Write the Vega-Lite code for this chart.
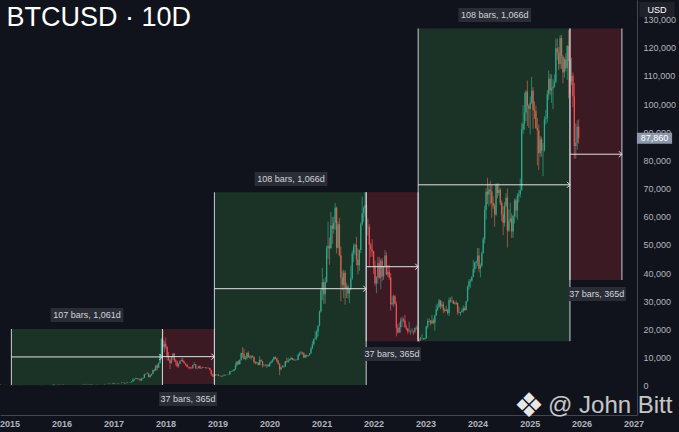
{
  "$schema": "https://vega.github.io/schema/vega-lite/v6.json",
  "width": 637,
  "height": 415,
  "autosize": {"type": "none"},
  "padding": {"left": 0, "top": 0, "right": 42, "bottom": 17},
  "background": "#10131c",
  "title": {
    "text": "BTCUSD · 10D",
    "anchor": "start",
    "offset": -32,
    "dx": 7,
    "fontSize": 27,
    "font": "Liberation Sans",
    "fontWeight": "normal",
    "color": "#ffffff"
  },
  "datasets": {
    "candles": [
      {"d":"2014-10-30","o":390,"h":395,"l":325,"c":335},
      {"d":"2014-11-09","o":335,"h":375,"l":330,"c":365},
      {"d":"2014-11-19","o":365,"h":410,"l":350,"c":375},
      {"d":"2014-11-29","o":375,"h":385,"l":360,"c":375},
      {"d":"2014-12-09","o":375,"h":380,"l":340,"c":350},
      {"d":"2014-12-19","o":350,"h":355,"l":310,"c":320},
      {"d":"2014-12-29","o":320,"h":335,"l":305,"c":315},
      {"d":"2015-01-08","o":315,"h":320,"l":265,"c":280},
      {"d":"2015-01-18","o":280,"h":285,"l":170,"c":210},
      {"d":"2015-01-28","o":210,"h":260,"l":200,"c":230},
      {"d":"2015-02-07","o":230,"h":240,"l":215,"c":225},
      {"d":"2015-02-17","o":225,"h":250,"l":220,"c":240},
      {"d":"2015-02-27","o":240,"h":265,"l":235,"c":255},
      {"d":"2015-03-09","o":255,"h":300,"l":250,"c":290},
      {"d":"2015-03-19","o":290,"h":295,"l":255,"c":260},
      {"d":"2015-03-29","o":260,"h":265,"l":240,"c":245},
      {"d":"2015-04-08","o":245,"h":260,"l":240,"c":245},
      {"d":"2015-04-18","o":245,"h":250,"l":220,"c":225},
      {"d":"2015-04-28","o":225,"h":240,"l":215,"c":225},
      {"d":"2015-05-08","o":225,"h":245,"l":222,"c":240},
      {"d":"2015-05-18","o":240,"h":242,"l":230,"c":235},
      {"d":"2015-05-28","o":235,"h":240,"l":228,"c":230},
      {"d":"2015-06-07","o":230,"h":235,"l":218,"c":225},
      {"d":"2015-06-17","o":225,"h":255,"l":222,"c":250},
      {"d":"2015-06-27","o":250,"h":265,"l":245,"c":250},
      {"d":"2015-07-07","o":250,"h":300,"l":248,"c":270},
      {"d":"2015-07-17","o":270,"h":300,"l":265,"c":280},
      {"d":"2015-07-27","o":280,"h":298,"l":275,"c":290},
      {"d":"2015-08-06","o":290,"h":292,"l":260,"c":280},
      {"d":"2015-08-16","o":280,"h":282,"l":195,"c":255},
      {"d":"2015-08-26","o":255,"h":262,"l":200,"c":225},
      {"d":"2015-09-05","o":225,"h":245,"l":220,"c":235},
      {"d":"2015-09-15","o":235,"h":240,"l":225,"c":230},
      {"d":"2015-09-25","o":230,"h":240,"l":228,"c":235},
      {"d":"2015-10-05","o":235,"h":246,"l":233,"c":240},
      {"d":"2015-10-15","o":240,"h":265,"l":238,"c":255},
      {"d":"2015-10-25","o":255,"h":290,"l":252,"c":285},
      {"d":"2015-11-04","o":285,"h":500,"l":280,"c":400},
      {"d":"2015-11-14","o":400,"h":410,"l":310,"c":335},
      {"d":"2015-11-24","o":335,"h":340,"l":310,"c":320},
      {"d":"2015-12-04","o":320,"h":370,"l":318,"c":360},
      {"d":"2015-12-14","o":360,"h":470,"l":355,"c":445},
      {"d":"2015-12-24","o":445,"h":470,"l":420,"c":455},
      {"d":"2016-01-03","o":455,"h":460,"l":420,"c":430},
      {"d":"2016-01-13","o":430,"h":435,"l":360,"c":385},
      {"d":"2016-01-23","o":385,"h":410,"l":365,"c":380},
      {"d":"2016-02-02","o":380,"h":385,"l":365,"c":375},
      {"d":"2016-02-12","o":375,"h":405,"l":370,"c":400},
      {"d":"2016-02-22","o":400,"h":445,"l":395,"c":435},
      {"d":"2016-03-03","o":435,"h":440,"l":405,"c":415},
      {"d":"2016-03-13","o":415,"h":420,"l":405,"c":415},
      {"d":"2016-03-23","o":415,"h":425,"l":410,"c":418},
      {"d":"2016-04-02","o":418,"h":425,"l":412,"c":420},
      {"d":"2016-04-12","o":420,"h":430,"l":415,"c":425},
      {"d":"2016-04-22","o":425,"h":465,"l":422,"c":450},
      {"d":"2016-05-02","o":450,"h":460,"l":440,"c":445},
      {"d":"2016-05-12","o":445,"h":460,"l":440,"c":455},
      {"d":"2016-05-22","o":455,"h":460,"l":435,"c":440},
      {"d":"2016-06-01","o":440,"h":550,"l":438,"c":535},
      {"d":"2016-06-11","o":535,"h":600,"l":530,"c":580},
      {"d":"2016-06-21","o":580,"h":780,"l":570,"c":665},
      {"d":"2016-07-01","o":665,"h":700,"l":620,"c":675},
      {"d":"2016-07-11","o":675,"h":680,"l":630,"c":650},
      {"d":"2016-07-21","o":650,"h":680,"l":645,"c":665},
      {"d":"2016-07-31","o":665,"h":670,"l":520,"c":625},
      {"d":"2016-08-10","o":625,"h":630,"l":580,"c":590},
      {"d":"2016-08-20","o":590,"h":595,"l":565,"c":580},
      {"d":"2016-08-30","o":580,"h":590,"l":570,"c":575},
      {"d":"2016-09-09","o":575,"h":630,"l":570,"c":625},
      {"d":"2016-09-19","o":625,"h":630,"l":600,"c":610},
      {"d":"2016-09-29","o":610,"h":615,"l":600,"c":605},
      {"d":"2016-10-09","o":605,"h":620,"l":602,"c":615},
      {"d":"2016-10-19","o":615,"h":640,"l":610,"c":630},
      {"d":"2016-10-29","o":630,"h":740,"l":625,"c":715},
      {"d":"2016-11-08","o":715,"h":740,"l":690,"c":710},
      {"d":"2016-11-18","o":710,"h":760,"l":700,"c":750},
      {"d":"2016-11-28","o":750,"h":760,"l":725,"c":735},
      {"d":"2016-12-08","o":735,"h":775,"l":730,"c":770},
      {"d":"2016-12-18","o":770,"h":800,"l":765,"c":790},
      {"d":"2016-12-28","o":790,"h":1150,"l":785,"c":1000},
      {"d":"2017-01-07","o":1000,"h":1010,"l":780,"c":900},
      {"d":"2017-01-17","o":900,"h":930,"l":860,"c":900},
      {"d":"2017-01-27","o":900,"h":930,"l":890,"c":920},
      {"d":"2017-02-06","o":920,"h":1040,"l":915,"c":1025},
      {"d":"2017-02-16","o":1025,"h":1060,"l":990,"c":1030},
      {"d":"2017-02-26","o":1030,"h":1200,"l":1020,"c":1180},
      {"d":"2017-03-08","o":1180,"h":1290,"l":1100,"c":1150},
      {"d":"2017-03-18","o":1150,"h":1180,"l":900,"c":970},
      {"d":"2017-03-28","o":970,"h":1080,"l":930,"c":1040},
      {"d":"2017-04-07","o":1040,"h":1200,"l":1030,"c":1190},
      {"d":"2017-04-17","o":1190,"h":1220,"l":1150,"c":1200},
      {"d":"2017-04-27","o":1200,"h":1350,"l":1190,"c":1330},
      {"d":"2017-05-07","o":1330,"h":1650,"l":1320,"c":1600},
      {"d":"2017-05-17","o":1600,"h":2760,"l":1600,"c":2200},
      {"d":"2017-05-27","o":2200,"h":2500,"l":1850,"c":2450},
      {"d":"2017-06-06","o":2450,"h":2980,"l":2440,"c":2700},
      {"d":"2017-06-16","o":2700,"h":2750,"l":2300,"c":2500},
      {"d":"2017-06-26","o":2500,"h":2600,"l":2300,"c":2600},
      {"d":"2017-07-06","o":2600,"h":2650,"l":1950,"c":1950},
      {"d":"2017-07-16","o":1950,"h":2900,"l":1830,"c":2550},
      {"d":"2017-07-26","o":2550,"h":2900,"l":2450,"c":2850},
      {"d":"2017-08-05","o":2850,"h":4300,"l":2800,"c":4200},
      {"d":"2017-08-15","o":4200,"h":4480,"l":3950,"c":4350},
      {"d":"2017-08-25","o":4350,"h":4980,"l":4200,"c":4300},
      {"d":"2017-09-04","o":4300,"h":4700,"l":3000,"c":3200},
      {"d":"2017-09-14","o":3200,"h":4000,"l":2980,"c":3800},
      {"d":"2017-09-24","o":3800,"h":4400,"l":3600,"c":4250},
      {"d":"2017-10-04","o":4250,"h":5800,"l":4200,"c":5650},
      {"d":"2017-10-14","o":5650,"h":6200,"l":5100,"c":5500},
      {"d":"2017-10-24","o":5500,"h":7300,"l":5400,"c":7200},
      {"d":"2017-11-03","o":7200,"h":7800,"l":5600,"c":6500},
      {"d":"2017-11-13","o":6500,"h":8300,"l":6400,"c":8100},
      {"d":"2017-11-23","o":8100,"h":11400,"l":8000,"c":11300},
      {"d":"2017-12-03","o":11300,"h":17000,"l":10800,"c":16500},
      {"d":"2017-12-13","o":16500,"h":19800,"l":13000,"c":13800},
      {"d":"2017-12-23","o":13800,"h":16000,"l":12000,"c":15000},
      {"d":"2018-01-02","o":15000,"h":17200,"l":13000,"c":13800},
      {"d":"2018-01-12","o":13800,"h":14100,"l":9000,"c":10500},
      {"d":"2018-01-22","o":10500,"h":12000,"l":9000,"c":9100},
      {"d":"2018-02-01","o":9100,"h":9500,"l":6000,"c":8100},
      {"d":"2018-02-11","o":8100,"h":10500,"l":7900,"c":10400},
      {"d":"2018-02-21","o":10400,"h":11700,"l":9300,"c":11400},
      {"d":"2018-03-03","o":11400,"h":11700,"l":8500,"c":9100},
      {"d":"2018-03-13","o":9100,"h":9600,"l":7300,"c":8700},
      {"d":"2018-03-23","o":8700,"h":9000,"l":6600,"c":7000},
      {"d":"2018-04-02","o":7000,"h":8000,"l":6500,"c":7900},
      {"d":"2018-04-12","o":7900,"h":9000,"l":7800,"c":8900},
      {"d":"2018-04-22","o":8900,"h":9800,"l":8800,"c":9200},
      {"d":"2018-05-02","o":9200,"h":9990,"l":8400,"c":8500},
      {"d":"2018-05-12","o":8500,"h":8900,"l":7900,"c":8000},
      {"d":"2018-05-22","o":8000,"h":8000,"l":7050,"c":7500},
      {"d":"2018-06-01","o":7500,"h":7800,"l":6500,"c":6800},
      {"d":"2018-06-11","o":6800,"h":6800,"l":6100,"c":6700},
      {"d":"2018-06-21","o":6700,"h":6800,"l":5800,"c":6400},
      {"d":"2018-07-01","o":6400,"h":6800,"l":6100,"c":6300},
      {"d":"2018-07-11","o":6300,"h":7500,"l":6100,"c":7400},
      {"d":"2018-07-21","o":7400,"h":8500,"l":7300,"c":7700},
      {"d":"2018-07-31","o":7700,"h":7750,"l":6100,"c":6300},
      {"d":"2018-08-10","o":6300,"h":6500,"l":5900,"c":6400},
      {"d":"2018-08-20","o":6400,"h":7100,"l":6300,"c":7000},
      {"d":"2018-08-30","o":7000,"h":7400,"l":6150,"c":6200},
      {"d":"2018-09-09","o":6200,"h":6600,"l":6100,"c":6400},
      {"d":"2018-09-19","o":6400,"h":6800,"l":6350,"c":6600},
      {"d":"2018-09-29","o":6600,"h":6700,"l":6500,"c":6650},
      {"d":"2018-10-09","o":6650,"h":6700,"l":6200,"c":6450},
      {"d":"2018-10-19","o":6450,"h":6500,"l":6250,"c":6300},
      {"d":"2018-10-29","o":6300,"h":6550,"l":6250,"c":6400},
      {"d":"2018-11-08","o":6400,"h":6500,"l":5500,"c":5600},
      {"d":"2018-11-18","o":5600,"h":5650,"l":3600,"c":4200},
      {"d":"2018-11-28","o":4200,"h":4400,"l":3300,"c":3400},
      {"d":"2018-12-08","o":3400,"h":3700,"l":3150,"c":3650},
      {"d":"2018-12-18","o":3650,"h":4200,"l":3600,"c":3850},
      {"d":"2018-12-28","o":3850,"h":4100,"l":3700,"c":4000},
      {"d":"2019-01-07","o":4000,"h":4100,"l":3500,"c":3650},
      {"d":"2019-01-17","o":3650,"h":3700,"l":3450,"c":3550},
      {"d":"2019-01-27","o":3550,"h":3600,"l":3350,"c":3400},
      {"d":"2019-02-06","o":3400,"h":3700,"l":3380,"c":3650},
      {"d":"2019-02-16","o":3650,"h":4200,"l":3600,"c":3800},
      {"d":"2019-02-26","o":3800,"h":3950,"l":3700,"c":3900},
      {"d":"2019-03-08","o":3900,"h":4050,"l":3850,"c":4000},
      {"d":"2019-03-18","o":4000,"h":4100,"l":3950,"c":4050},
      {"d":"2019-03-28","o":4050,"h":5300,"l":4000,"c":5100},
      {"d":"2019-04-07","o":5100,"h":5400,"l":4900,"c":5250},
      {"d":"2019-04-17","o":5250,"h":5600,"l":5100,"c":5300},
      {"d":"2019-04-27","o":5300,"h":6000,"l":5200,"c":5900},
      {"d":"2019-05-07","o":5900,"h":8300,"l":5800,"c":7350},
      {"d":"2019-05-17","o":7350,"h":8800,"l":6900,"c":8700},
      {"d":"2019-05-27","o":8700,"h":9100,"l":7500,"c":7800},
      {"d":"2019-06-06","o":7800,"h":9400,"l":7500,"c":9300},
      {"d":"2019-06-16","o":9300,"h":11800,"l":9000,"c":11700},
      {"d":"2019-06-26","o":11700,"h":13800,"l":10000,"c":11300},
      {"d":"2019-07-06","o":11300,"h":13200,"l":9300,"c":9600},
      {"d":"2019-07-16","o":9600,"h":10600,"l":9100,"c":9800},
      {"d":"2019-07-26","o":9800,"h":12000,"l":9400,"c":11700},
      {"d":"2019-08-05","o":11700,"h":12300,"l":10000,"c":10300},
      {"d":"2019-08-15","o":10300,"h":10900,"l":9700,"c":10100},
      {"d":"2019-08-25","o":10100,"h":10900,"l":9400,"c":10600},
      {"d":"2019-09-04","o":10600,"h":10900,"l":10100,"c":10350},
      {"d":"2019-09-14","o":10350,"h":10400,"l":7900,"c":8500},
      {"d":"2019-09-24","o":8500,"h":8700,"l":7700,"c":8150},
      {"d":"2019-10-04","o":8150,"h":8600,"l":7800,"c":8350},
      {"d":"2019-10-14","o":8350,"h":8400,"l":7300,"c":7450},
      {"d":"2019-10-24","o":7450,"h":10500,"l":7350,"c":9200},
      {"d":"2019-11-03","o":9200,"h":9500,"l":8600,"c":8800},
      {"d":"2019-11-13","o":8800,"h":8900,"l":6500,"c":7300},
      {"d":"2019-11-23","o":7300,"h":7800,"l":6800,"c":7300},
      {"d":"2019-12-03","o":7300,"h":7700,"l":7100,"c":7250},
      {"d":"2019-12-13","o":7250,"h":7550,"l":6400,"c":7500},
      {"d":"2019-12-23","o":7500,"h":7700,"l":6900,"c":6950},
      {"d":"2020-01-02","o":6950,"h":8400,"l":6850,"c":8100},
      {"d":"2020-01-12","o":8100,"h":9000,"l":8000,"c":8650},
      {"d":"2020-01-22","o":8650,"h":9600,"l":8300,"c":9350},
      {"d":"2020-02-01","o":9350,"h":10400,"l":9100,"c":10300},
      {"d":"2020-02-11","o":10300,"h":10500,"l":9500,"c":9700},
      {"d":"2020-02-21","o":9700,"h":10000,"l":8500,"c":8900},
      {"d":"2020-03-02","o":8900,"h":9200,"l":7600,"c":7900},
      {"d":"2020-03-12","o":7900,"h":7950,"l":3800,"c":5800},
      {"d":"2020-03-22","o":5800,"h":6900,"l":5700,"c":6650},
      {"d":"2020-04-01","o":6650,"h":7400,"l":6500,"c":6900},
      {"d":"2020-04-11","o":6900,"h":7300,"l":6500,"c":6850},
      {"d":"2020-04-21","o":6850,"h":8900,"l":6800,"c":8800},
      {"d":"2020-05-01","o":8800,"h":10000,"l":8100,"c":8600},
      {"d":"2020-05-11","o":8600,"h":10000,"l":8200,"c":9050},
      {"d":"2020-05-21","o":9050,"h":9600,"l":8800,"c":9450},
      {"d":"2020-05-31","o":9450,"h":10400,"l":9200,"c":9900},
      {"d":"2020-06-10","o":9900,"h":10000,"l":9200,"c":9300},
      {"d":"2020-06-20","o":9300,"h":9800,"l":9000,"c":9150},
      {"d":"2020-06-30","o":9150,"h":9450,"l":9000,"c":9250},
      {"d":"2020-07-10","o":9250,"h":9450,"l":9050,"c":9200},
      {"d":"2020-07-20","o":9200,"h":11400,"l":9150,"c":11100},
      {"d":"2020-07-30","o":11100,"h":12100,"l":10600,"c":11700},
      {"d":"2020-08-09","o":11700,"h":12400,"l":11100,"c":11750},
      {"d":"2020-08-19","o":11750,"h":12100,"l":11100,"c":11550},
      {"d":"2020-08-29","o":11550,"h":12050,"l":9900,"c":10100},
      {"d":"2020-09-08","o":10100,"h":11100,"l":9900,"c":11000},
      {"d":"2020-09-18","o":11000,"h":11100,"l":10100,"c":10700},
      {"d":"2020-09-28","o":10700,"h":11000,"l":10400,"c":10900},
      {"d":"2020-10-08","o":10900,"h":11700,"l":10800,"c":11500},
      {"d":"2020-10-18","o":11500,"h":13800,"l":11400,"c":13300},
      {"d":"2020-10-28","o":13300,"h":15900,"l":13100,"c":14800},
      {"d":"2020-11-07","o":14800,"h":16800,"l":14400,"c":16700},
      {"d":"2020-11-17","o":16700,"h":19400,"l":16500,"c":17100},
      {"d":"2020-11-27","o":17100,"h":19900,"l":16200,"c":19200},
      {"d":"2020-12-07","o":19200,"h":21500,"l":17600,"c":21300},
      {"d":"2020-12-17","o":21300,"h":26800,"l":21200,"c":26400},
      {"d":"2020-12-27","o":26400,"h":34800,"l":26000,"c":33900},
      {"d":"2021-01-06","o":33900,"h":41900,"l":30400,"c":36800},
      {"d":"2021-01-16","o":36800,"h":37900,"l":29000,"c":32500},
      {"d":"2021-01-26","o":32500,"h":38700,"l":29200,"c":36900},
      {"d":"2021-02-05","o":36900,"h":49700,"l":36500,"c":48800},
      {"d":"2021-02-15","o":48800,"h":58300,"l":45000,"c":49700},
      {"d":"2021-02-25","o":49700,"h":52600,"l":43000,"c":48900},
      {"d":"2021-03-07","o":48900,"h":61700,"l":48500,"c":56900},
      {"d":"2021-03-17","o":56900,"h":60000,"l":50400,"c":55800},
      {"d":"2021-03-27","o":55800,"h":60000,"l":54000,"c":58000},
      {"d":"2021-04-06","o":58000,"h":64900,"l":55400,"c":63200},
      {"d":"2021-04-16","o":63200,"h":63600,"l":47000,"c":49000},
      {"d":"2021-04-26","o":49000,"h":58400,"l":48800,"c":57400},
      {"d":"2021-05-06","o":57400,"h":59600,"l":46000,"c":46400},
      {"d":"2021-05-16","o":46400,"h":49500,"l":30000,"c":38400},
      {"d":"2021-05-26","o":38400,"h":40800,"l":34000,"c":35800},
      {"d":"2021-06-05","o":35800,"h":41300,"l":31100,"c":40200},
      {"d":"2021-06-15","o":40200,"h":41000,"l":28800,"c":34700},
      {"d":"2021-06-25","o":34700,"h":36600,"l":31200,"c":35300},
      {"d":"2021-07-05","o":35300,"h":35900,"l":31000,"c":32800},
      {"d":"2021-07-15","o":32800,"h":34500,"l":29300,"c":34300},
      {"d":"2021-07-25","o":34300,"h":42600,"l":33900,"c":38200},
      {"d":"2021-08-04","o":38200,"h":48100,"l":37600,"c":47100},
      {"d":"2021-08-14","o":47100,"h":50500,"l":43900,"c":49500},
      {"d":"2021-08-24","o":49500,"h":50500,"l":46400,"c":50000},
      {"d":"2021-09-03","o":50000,"h":52900,"l":42800,"c":44900},
      {"d":"2021-09-13","o":44900,"h":48800,"l":39600,"c":42800},
      {"d":"2021-09-23","o":42800,"h":48400,"l":40800,"c":48200},
      {"d":"2021-10-03","o":48200,"h":58000,"l":47100,"c":57400},
      {"d":"2021-10-13","o":57400,"h":67000,"l":56800,"c":61300},
      {"d":"2021-10-23","o":61300,"h":63700,"l":58100,"c":63100},
      {"d":"2021-11-02","o":63100,"h":68800,"l":60000,"c":64200},
      {"d":"2021-11-12","o":64200,"h":65500,"l":55600,"c":56300},
      {"d":"2021-11-22","o":56300,"h":59400,"l":53300,"c":56500},
      {"d":"2021-12-02","o":56500,"h":57400,"l":42000,"c":50100},
      {"d":"2021-12-12","o":50100,"h":50800,"l":45700,"c":48600},
      {"d":"2021-12-22","o":48600,"h":52100,"l":45900,"c":47700},
      {"d":"2022-01-01","o":47700,"h":47900,"l":39700,"c":42700},
      {"d":"2022-01-11","o":42700,"h":44500,"l":35500,"c":36300},
      {"d":"2022-01-21","o":36300,"h":38900,"l":32900,"c":38500},
      {"d":"2022-01-31","o":38500,"h":45800,"l":36300,"c":43500},
      {"d":"2022-02-10","o":43500,"h":45800,"l":38000,"c":38400},
      {"d":"2022-02-20","o":38400,"h":45000,"l":34300,"c":44400},
      {"d":"2022-03-02","o":44400,"h":45400,"l":37200,"c":38800},
      {"d":"2022-03-12","o":38800,"h":42600,"l":37600,"c":42400},
      {"d":"2022-03-22","o":42400,"h":48200,"l":42000,"c":46300},
      {"d":"2022-04-01","o":46300,"h":47400,"l":39300,"c":39500},
      {"d":"2022-04-11","o":39500,"h":42900,"l":38600,"c":40500},
      {"d":"2022-04-21","o":40500,"h":42900,"l":37700,"c":38500},
      {"d":"2022-05-01","o":38500,"h":40000,"l":26700,"c":29000},
      {"d":"2022-05-11","o":29000,"h":32000,"l":28600,"c":29400},
      {"d":"2022-05-21","o":29400,"h":32400,"l":28000,"c":31800},
      {"d":"2022-05-31","o":31800,"h":32300,"l":28800,"c":29100},
      {"d":"2022-06-10","o":29100,"h":30000,"l":17600,"c":20600},
      {"d":"2022-06-20","o":20600,"h":21900,"l":18600,"c":19000},
      {"d":"2022-06-30","o":19000,"h":22500,"l":18900,"c":20800},
      {"d":"2022-07-10","o":20800,"h":24200,"l":18900,"c":23200},
      {"d":"2022-07-20","o":23200,"h":24600,"l":20800,"c":23600},
      {"d":"2022-07-30","o":23600,"h":24200,"l":22600,"c":23200},
      {"d":"2022-08-09","o":23200,"h":25200,"l":20700,"c":20800},
      {"d":"2022-08-19","o":20800,"h":21700,"l":19700,"c":20300},
      {"d":"2022-08-29","o":20300,"h":20600,"l":18500,"c":19300},
      {"d":"2022-09-08","o":19300,"h":22800,"l":19000,"c":19400},
      {"d":"2022-09-18","o":19400,"h":19900,"l":18200,"c":19400},
      {"d":"2022-09-28","o":19400,"h":20500,"l":18900,"c":19400},
      {"d":"2022-10-08","o":19400,"h":19700,"l":18200,"c":19300},
      {"d":"2022-10-18","o":19300,"h":20800,"l":18700,"c":20600},
      {"d":"2022-10-28","o":20600,"h":21500,"l":20000,"c":20600},
      {"d":"2022-11-07","o":20600,"h":21000,"l":15700,"c":16700},
      {"d":"2022-11-17","o":16700,"h":16900,"l":15500,"c":16500},
      {"d":"2022-11-27","o":16500,"h":17400,"l":16000,"c":16800},
      {"d":"2022-12-07","o":16800,"h":18400,"l":16500,"c":16800},
      {"d":"2022-12-17","o":16800,"h":17000,"l":16300,"c":16700},
      {"d":"2022-12-27","o":16700,"h":17100,"l":16400,"c":16900},
      {"d":"2023-01-06","o":16900,"h":21300,"l":16800,"c":21100},
      {"d":"2023-01-16","o":21100,"h":23800,"l":20400,"c":23000},
      {"d":"2023-01-26","o":23000,"h":24000,"l":22600,"c":22900},
      {"d":"2023-02-05","o":22900,"h":23400,"l":21400,"c":22200},
      {"d":"2023-02-15","o":22200,"h":25200,"l":22000,"c":23200},
      {"d":"2023-02-25","o":23200,"h":23900,"l":21900,"c":22400},
      {"d":"2023-03-07","o":22400,"h":25200,"l":19600,"c":25000},
      {"d":"2023-03-17","o":25000,"h":28900,"l":24900,"c":27100},
      {"d":"2023-03-27","o":27100,"h":29200,"l":26600,"c":28000},
      {"d":"2023-04-06","o":28000,"h":30900,"l":27800,"c":30300},
      {"d":"2023-04-16","o":30300,"h":30500,"l":27200,"c":28300},
      {"d":"2023-04-26","o":28300,"h":30000,"l":27700,"c":28900},
      {"d":"2023-05-06","o":28900,"h":29800,"l":25800,"c":27000},
      {"d":"2023-05-16","o":27000,"h":27500,"l":26100,"c":26700},
      {"d":"2023-05-26","o":26700,"h":28400,"l":26500,"c":27000},
      {"d":"2023-06-05","o":27000,"h":27300,"l":25300,"c":25900},
      {"d":"2023-06-15","o":25900,"h":31400,"l":24800,"c":30500},
      {"d":"2023-06-25","o":30500,"h":31400,"l":29500,"c":30300},
      {"d":"2023-07-05","o":30300,"h":31800,"l":29700,"c":30300},
      {"d":"2023-07-15","o":30300,"h":30400,"l":29100,"c":29200},
      {"d":"2023-07-25","o":29200,"h":29900,"l":28900,"c":29100},
      {"d":"2023-08-04","o":29100,"h":30300,"l":28700,"c":29400},
      {"d":"2023-08-14","o":29400,"h":29600,"l":25200,"c":26100},
      {"d":"2023-08-24","o":26100,"h":28100,"l":25800,"c":25900},
      {"d":"2023-09-03","o":25900,"h":26300,"l":24900,"c":26200},
      {"d":"2023-09-13","o":26200,"h":27400,"l":26100,"c":26600},
      {"d":"2023-09-23","o":26600,"h":28500,"l":26000,"c":27600},
      {"d":"2023-10-03","o":27600,"h":28200,"l":26600,"c":26900},
      {"d":"2023-10-13","o":26900,"h":30200,"l":26800,"c":30000},
      {"d":"2023-10-23","o":30000,"h":35600,"l":29900,"c":35400},
      {"d":"2023-11-02","o":35400,"h":37900,"l":34100,"c":37100},
      {"d":"2023-11-12","o":37100,"h":38000,"l":34800,"c":37400},
      {"d":"2023-11-22","o":37400,"h":38900,"l":36800,"c":38700},
      {"d":"2023-12-02","o":38700,"h":44700,"l":38600,"c":41500},
      {"d":"2023-12-12","o":41500,"h":44000,"l":40200,"c":43700},
      {"d":"2023-12-22","o":43700,"h":44300,"l":41500,"c":44200},
      {"d":"2024-01-01","o":44200,"h":49000,"l":42600,"c":46300},
      {"d":"2024-01-11","o":46300,"h":48900,"l":40300,"c":41600},
      {"d":"2024-01-21","o":41600,"h":43400,"l":38500,"c":42600},
      {"d":"2024-01-31","o":42600,"h":47700,"l":42200,"c":47100},
      {"d":"2024-02-10","o":47100,"h":52800,"l":47000,"c":52000},
      {"d":"2024-02-20","o":52000,"h":64000,"l":50500,"c":62400},
      {"d":"2024-03-01","o":62400,"h":70200,"l":59000,"c":68900},
      {"d":"2024-03-11","o":68900,"h":73800,"l":64500,"c":67900},
      {"d":"2024-03-21","o":67900,"h":71800,"l":63700,"c":69700},
      {"d":"2024-03-31","o":69700,"h":72700,"l":64500,"c":69100},
      {"d":"2024-04-10","o":69100,"h":71300,"l":59600,"c":64900},
      {"d":"2024-04-20","o":64900,"h":67200,"l":62800,"c":63800},
      {"d":"2024-04-30","o":63800,"h":64700,"l":56500,"c":60800},
      {"d":"2024-05-10","o":60800,"h":71900,"l":60200,"c":71400},
      {"d":"2024-05-20","o":71400,"h":71900,"l":66600,"c":68400},
      {"d":"2024-05-30","o":68400,"h":71900,"l":67400,"c":69600},
      {"d":"2024-06-09","o":69600,"h":70200,"l":64100,"c":65000},
      {"d":"2024-06-19","o":65000,"h":65800,"l":58400,"c":60800},
      {"d":"2024-06-29","o":60800,"h":63800,"l":53500,"c":57900},
      {"d":"2024-07-09","o":57900,"h":65300,"l":56500,"c":64000},
      {"d":"2024-07-19","o":64000,"h":68400,"l":63400,"c":66800},
      {"d":"2024-07-29","o":66800,"h":70000,"l":49100,"c":55100},
      {"d":"2024-08-08","o":55100,"h":62700,"l":54600,"c":58400},
      {"d":"2024-08-18","o":58400,"h":65000,"l":58000,"c":59400},
      {"d":"2024-08-28","o":59400,"h":61200,"l":52500,"c":54800},
      {"d":"2024-09-07","o":54800,"h":60700,"l":52600,"c":60300},
      {"d":"2024-09-17","o":60300,"h":66500,"l":57600,"c":65800},
      {"d":"2024-09-27","o":65800,"h":66500,"l":59800,"c":62200},
      {"d":"2024-10-07","o":62200,"h":68400,"l":58900,"c":67400},
      {"d":"2024-10-17","o":67400,"h":69500,"l":65100,"c":67900},
      {"d":"2024-10-27","o":67900,"h":73600,"l":66800,"c":69400},
      {"d":"2024-11-06","o":69400,"h":93400,"l":69300,"c":91000},
      {"d":"2024-11-16","o":91000,"h":99600,"l":89400,"c":93000},
      {"d":"2024-11-26","o":93000,"h":104000,"l":90800,"c":97000},
      {"d":"2024-12-06","o":97000,"h":105000,"l":94000,"c":104400},
      {"d":"2024-12-16","o":104400,"h":108300,"l":92200,"c":99400},
      {"d":"2024-12-26","o":99400,"h":99900,"l":91500,"c":98300},
      {"d":"2025-01-05","o":98300,"h":102700,"l":89200,"c":100500},
      {"d":"2025-01-15","o":100500,"h":109600,"l":99900,"c":104700},
      {"d":"2025-01-25","o":104700,"h":106000,"l":91200,"c":97800},
      {"d":"2025-02-04","o":97800,"h":101000,"l":94700,"c":97500},
      {"d":"2025-02-14","o":97500,"h":99500,"l":91200,"c":91500},
      {"d":"2025-02-24","o":91500,"h":95000,"l":78200,"c":90600},
      {"d":"2025-03-06","o":90600,"h":92800,"l":76600,"c":82600},
      {"d":"2025-03-16","o":82600,"h":88700,"l":81200,"c":87500},
      {"d":"2025-03-26","o":87500,"h":88400,"l":81300,"c":83500},
      {"d":"2025-04-05","o":83500,"h":86100,"l":74400,"c":83600},
      {"d":"2025-04-15","o":83600,"h":95700,"l":83100,"c":94700},
      {"d":"2025-04-25","o":94700,"h":97900,"l":92800,"c":95000},
      {"d":"2025-05-05","o":95000,"h":105000,"l":93400,"c":103500},
      {"d":"2025-05-15","o":103500,"h":111900,"l":101500,"c":109000},
      {"d":"2025-05-25","o":109000,"h":110700,"l":103100,"c":104800},
      {"d":"2025-06-04","o":104800,"h":110500,"l":100400,"c":105500},
      {"d":"2025-06-14","o":105500,"h":108900,"l":98200,"c":106100},
      {"d":"2025-06-24","o":106100,"h":110500,"l":105800,"c":108000},
      {"d":"2025-07-04","o":108000,"h":123200,"l":107400,"c":119800},
      {"d":"2025-07-14","o":119800,"h":123200,"l":115700,"c":118300},
      {"d":"2025-07-24","o":118300,"h":120200,"l":112000,"c":114200},
      {"d":"2025-08-03","o":114200,"h":124400,"l":112700,"c":123300},
      {"d":"2025-08-13","o":123300,"h":124500,"l":112400,"c":116900},
      {"d":"2025-08-23","o":116900,"h":117400,"l":107300,"c":111200},
      {"d":"2025-09-02","o":111200,"h":116600,"l":109300,"c":115900},
      {"d":"2025-09-12","o":115900,"h":118000,"l":111600,"c":112700},
      {"d":"2025-09-22","o":112700,"h":121000,"l":108600,"c":120600},
      {"d":"2025-10-02","o":120600,"h":126200,"l":102000,"c":115200},
      {"d":"2025-10-12","o":115200,"h":116000,"l":103500,"c":108000},
      {"d":"2025-10-22","o":108000,"h":116400,"l":106700,"c":110000},
      {"d":"2025-11-01","o":110000,"h":111200,"l":98900,"c":102800},
      {"d":"2025-11-11","o":102800,"h":107500,"l":80600,"c":85100},
      {"d":"2025-11-21","o":85100,"h":93100,"l":80600,"c":86300},
      {"d":"2025-12-01","o":86300,"h":94200,"l":83800,"c":92000},
      {"d":"2025-12-11","o":92000,"h":94500,"l":86000,"c":87860}
    ],
    "ranges": [
      {"s":"2015-01-14","e":"2017-12-10","lo":350,"hi":20200,"mid":10300,"k":"up","lx":"2016-06-28","ly":25200,"t":"107 bars, 1,061d"},
      {"s":"2017-12-10","e":"2018-12-10","lo":700,"hi":20200,"mid":10400,"k":"down","lx":"2018-06-08","ly":-4600,"t":"37 bars, 365d"},
      {"s":"2018-12-10","e":"2021-11-10","lo":350,"hi":68700,"mid":34500,"k":"up","lx":"2020-05-31","ly":73400,"t":"108 bars, 1,066d"},
      {"s":"2021-11-10","e":"2022-11-10","lo":15900,"hi":68700,"mid":42300,"k":"down","lx":"2022-05-10","ly":11350,"t":"37 bars, 365d"},
      {"s":"2022-11-10","e":"2025-10-11","lo":15900,"hi":126800,"mid":71350,"k":"up","lx":"2024-05-01","ly":131600,"t":"108 bars, 1,066d"},
      {"s":"2025-10-11","e":"2026-10-11","lo":37600,"hi":126800,"mid":82200,"k":"down","lx":"2026-04-18","ly":32600,"t":"37 bars, 365d"}
    ],
    "tags": [
      {"d":"2027-05-28","p":87860,"t":"87,860","k":"price"},
      {"d":"2027-06-14","p":133500,"t":"USD","k":"unit"}
    ],
    "marks": [
      {"d":"2024-12-27","p":-7300,"t":"❖","k":"logo"},
      {"d":"2025-05-10","p":-9600,"t":"@ John Bitt","k":"name"}
    ]
  },
  "layer": [
    {
      "data": {"name": "candles"},
      "mark": {"type": "rule", "strokeWidth": 0.7},
      "encoding": {
        "x": {"field": "d", "type": "temporal", "scale": {"domain": [{"year": 2014, "month": 10, "date": 26}, {"year": 2027, "month": 1, "date": 25}]}, "axis": {"title": null, "format": "%Y", "tickCount": "year", "grid": false, "ticks": false, "labelColor": "#b2b5be", "labelFontSize": 9, "labelFont": "Liberation Sans", "labelFontWeight": "bold", "labelPadding": 4, "labelFlush": false, "labelOverlap": false, "domainColor": "#434651"}},
        "y": {"field": "l", "type": "quantitative", "scale": {"domain": [-10300, 136900], "nice": false, "zero": false}, "axis": {"orient": "right", "title": null, "format": ",.0f", "grid": false, "ticks": false, "values": [0, 10000, 20000, 30000, 40000, 50000, 60000, 70000, 80000, 90000, 100000, 110000, 120000, 130000], "labelColor": "#b2b5be", "labelFontSize": 9, "labelFont": "Liberation Sans", "labelPadding": 6, "domainColor": "#434651"}},
        "y2": {"field": "h"},
        "color": {"condition": {"test": "datum.c >= datum.o", "value": "#26a69a"}, "value": "#ef5350"}
      }
    },
    {
      "data": {"name": "candles"},
      "mark": {"type": "rule", "strokeWidth": 1.3},
      "encoding": {
        "x": {"field": "d", "type": "temporal", "axis": {"title": null, "format": "%Y", "tickCount": "year", "grid": false, "ticks": false, "labelColor": "#b2b5be", "labelFontSize": 9, "labelFont": "Liberation Sans", "labelFontWeight": "bold", "labelPadding": 4, "labelFlush": false, "labelOverlap": false, "domainColor": "#434651"}},
        "y": {"field": "o", "type": "quantitative", "axis": {"orient": "right", "title": null, "format": ",.0f", "grid": false, "ticks": false, "values": [0, 10000, 20000, 30000, 40000, 50000, 60000, 70000, 80000, 90000, 100000, 110000, 120000, 130000], "labelColor": "#b2b5be", "labelFontSize": 9, "labelFont": "Liberation Sans", "labelPadding": 6, "domainColor": "#434651"}},
        "y2": {"field": "c"},
        "color": {"condition": {"test": "datum.c >= datum.o", "value": "#26a69a"}, "value": "#ef5350"}
      }
    },
    {
      "data": {"name": "ranges"},
      "mark": {"type": "rect", "opacity": 0.2},
      "encoding": {
        "x": {"field": "s", "type": "temporal", "axis": {"title": null, "format": "%Y", "tickCount": "year", "grid": false, "ticks": false, "labelColor": "#b2b5be", "labelFontSize": 9, "labelFont": "Liberation Sans", "labelFontWeight": "bold", "labelPadding": 4, "labelFlush": false, "labelOverlap": false, "domainColor": "#434651"}},
        "x2": {"field": "e"},
        "y": {"field": "lo", "type": "quantitative", "axis": {"orient": "right", "title": null, "format": ",.0f", "grid": false, "ticks": false, "values": [0, 10000, 20000, 30000, 40000, 50000, 60000, 70000, 80000, 90000, 100000, 110000, 120000, 130000], "labelColor": "#b2b5be", "labelFontSize": 9, "labelFont": "Liberation Sans", "labelPadding": 6, "domainColor": "#434651"}},
        "y2": {"field": "hi"},
        "color": {"condition": {"test": "datum.k == 'up'", "value": "#4caf50"}, "value": "#f23645"}
      }
    },
    {
      "data": {"name": "ranges"},
      "mark": {"type": "rule", "strokeWidth": 1, "color": "#c9ccd3"},
      "encoding": {
        "x": {"field": "s", "type": "temporal", "axis": {"title": null, "format": "%Y", "tickCount": "year", "grid": false, "ticks": false, "labelColor": "#b2b5be", "labelFontSize": 9, "labelFont": "Liberation Sans", "labelFontWeight": "bold", "labelPadding": 4, "labelFlush": false, "labelOverlap": false, "domainColor": "#434651"}},
        "y": {"field": "lo", "type": "quantitative", "axis": {"orient": "right", "title": null, "format": ",.0f", "grid": false, "ticks": false, "values": [0, 10000, 20000, 30000, 40000, 50000, 60000, 70000, 80000, 90000, 100000, 110000, 120000, 130000], "labelColor": "#b2b5be", "labelFontSize": 9, "labelFont": "Liberation Sans", "labelPadding": 6, "domainColor": "#434651"}},
        "y2": {"field": "hi"}
      }
    },
    {
      "data": {"name": "ranges"},
      "mark": {"type": "rule", "strokeWidth": 1, "color": "#c9ccd3"},
      "encoding": {
        "x": {"field": "e", "type": "temporal", "axis": {"title": null, "format": "%Y", "tickCount": "year", "grid": false, "ticks": false, "labelColor": "#b2b5be", "labelFontSize": 9, "labelFont": "Liberation Sans", "labelFontWeight": "bold", "labelPadding": 4, "labelFlush": false, "labelOverlap": false, "domainColor": "#434651"}},
        "y": {"field": "lo", "type": "quantitative", "axis": {"orient": "right", "title": null, "format": ",.0f", "grid": false, "ticks": false, "values": [0, 10000, 20000, 30000, 40000, 50000, 60000, 70000, 80000, 90000, 100000, 110000, 120000, 130000], "labelColor": "#b2b5be", "labelFontSize": 9, "labelFont": "Liberation Sans", "labelPadding": 6, "domainColor": "#434651"}},
        "y2": {"field": "hi"}
      }
    },
    {
      "data": {"name": "ranges"},
      "mark": {"type": "rule", "strokeWidth": 1, "color": "#e2e3e6"},
      "encoding": {
        "x": {"field": "s", "type": "temporal", "axis": {"title": null, "format": "%Y", "tickCount": "year", "grid": false, "ticks": false, "labelColor": "#b2b5be", "labelFontSize": 9, "labelFont": "Liberation Sans", "labelFontWeight": "bold", "labelPadding": 4, "labelFlush": false, "labelOverlap": false, "domainColor": "#434651"}},
        "x2": {"field": "e"},
        "y": {"field": "mid", "type": "quantitative", "axis": {"orient": "right", "title": null, "format": ",.0f", "grid": false, "ticks": false, "values": [0, 10000, 20000, 30000, 40000, 50000, 60000, 70000, 80000, 90000, 100000, 110000, 120000, 130000], "labelColor": "#b2b5be", "labelFontSize": 9, "labelFont": "Liberation Sans", "labelPadding": 6, "domainColor": "#434651"}}
      }
    },
    {
      "data": {"name": "ranges"},
      "mark": {"type": "point", "shape": "M-1,-1L0,0L-1,1", "filled": false, "size": 36, "strokeWidth": 1, "color": "#e2e3e6", "opacity": 1},
      "encoding": {
        "x": {"field": "e", "type": "temporal", "axis": {"title": null, "format": "%Y", "tickCount": "year", "grid": false, "ticks": false, "labelColor": "#b2b5be", "labelFontSize": 9, "labelFont": "Liberation Sans", "labelFontWeight": "bold", "labelPadding": 4, "labelFlush": false, "labelOverlap": false, "domainColor": "#434651"}},
        "y": {"field": "mid", "type": "quantitative", "axis": {"orient": "right", "title": null, "format": ",.0f", "grid": false, "ticks": false, "values": [0, 10000, 20000, 30000, 40000, 50000, 60000, 70000, 80000, 90000, 100000, 110000, 120000, 130000], "labelColor": "#b2b5be", "labelFontSize": 9, "labelFont": "Liberation Sans", "labelPadding": 6, "domainColor": "#434651"}}
      }
    },
    {
      "data": {"name": "ranges"},
      "transform": [{"filter": "datum.k == 'up'"}],
      "mark": {"type": "point", "shape": "M-5.2,-1H5.2V1H-5.2Z", "filled": true, "size": 196, "color": "#2a2d35", "opacity": 1},
      "encoding": {
        "x": {"field": "lx", "type": "temporal", "axis": {"title": null, "format": "%Y", "tickCount": "year", "grid": false, "ticks": false, "labelColor": "#b2b5be", "labelFontSize": 9, "labelFont": "Liberation Sans", "labelFontWeight": "bold", "labelPadding": 4, "labelFlush": false, "labelOverlap": false, "domainColor": "#434651"}},
        "y": {"field": "ly", "type": "quantitative", "axis": {"orient": "right", "title": null, "format": ",.0f", "grid": false, "ticks": false, "values": [0, 10000, 20000, 30000, 40000, 50000, 60000, 70000, 80000, 90000, 100000, 110000, 120000, 130000], "labelColor": "#b2b5be", "labelFontSize": 9, "labelFont": "Liberation Sans", "labelPadding": 6, "domainColor": "#434651"}}
      }
    },
    {
      "data": {"name": "ranges"},
      "transform": [{"filter": "datum.k == 'down'"}],
      "mark": {"type": "point", "shape": "M-4.15,-1H4.15V1H-4.15Z", "filled": true, "size": 196, "color": "#2a2d35", "opacity": 1},
      "encoding": {
        "x": {"field": "lx", "type": "temporal", "axis": {"title": null, "format": "%Y", "tickCount": "year", "grid": false, "ticks": false, "labelColor": "#b2b5be", "labelFontSize": 9, "labelFont": "Liberation Sans", "labelFontWeight": "bold", "labelPadding": 4, "labelFlush": false, "labelOverlap": false, "domainColor": "#434651"}},
        "y": {"field": "ly", "type": "quantitative", "axis": {"orient": "right", "title": null, "format": ",.0f", "grid": false, "ticks": false, "values": [0, 10000, 20000, 30000, 40000, 50000, 60000, 70000, 80000, 90000, 100000, 110000, 120000, 130000], "labelColor": "#b2b5be", "labelFontSize": 9, "labelFont": "Liberation Sans", "labelPadding": 6, "domainColor": "#434651"}}
      }
    },
    {
      "data": {"name": "ranges"},
      "mark": {"type": "text", "fontSize": 9, "font": "Liberation Sans", "color": "#d1d4dc", "align": "center", "baseline": "middle"},
      "encoding": {
        "x": {"field": "lx", "type": "temporal", "axis": {"title": null, "format": "%Y", "tickCount": "year", "grid": false, "ticks": false, "labelColor": "#b2b5be", "labelFontSize": 9, "labelFont": "Liberation Sans", "labelFontWeight": "bold", "labelPadding": 4, "labelFlush": false, "labelOverlap": false, "domainColor": "#434651"}},
        "y": {"field": "ly", "type": "quantitative", "axis": {"orient": "right", "title": null, "format": ",.0f", "grid": false, "ticks": false, "values": [0, 10000, 20000, 30000, 40000, 50000, 60000, 70000, 80000, 90000, 100000, 110000, 120000, 130000], "labelColor": "#b2b5be", "labelFontSize": 9, "labelFont": "Liberation Sans", "labelPadding": 6, "domainColor": "#434651"}},
        "text": {"field": "t"}
      }
    },
    {
      "data": {"name": "tags"},
      "transform": [{"filter": "datum.k == 'price'"}],
      "mark": {"type": "point", "shape": "M-3.2,-1H3.2V1H-3.2Z", "filled": true, "size": 121, "color": "#8d99ab", "opacity": 1},
      "encoding": {
        "x": {"field": "d", "type": "temporal", "axis": {"title": null, "format": "%Y", "tickCount": "year", "grid": false, "ticks": false, "labelColor": "#b2b5be", "labelFontSize": 9, "labelFont": "Liberation Sans", "labelFontWeight": "bold", "labelPadding": 4, "labelFlush": false, "labelOverlap": false, "domainColor": "#434651"}},
        "y": {"field": "p", "type": "quantitative", "axis": {"orient": "right", "title": null, "format": ",.0f", "grid": false, "ticks": false, "values": [0, 10000, 20000, 30000, 40000, 50000, 60000, 70000, 80000, 90000, 100000, 110000, 120000, 130000], "labelColor": "#b2b5be", "labelFontSize": 9, "labelFont": "Liberation Sans", "labelPadding": 6, "domainColor": "#434651"}}
      }
    },
    {
      "data": {"name": "tags"},
      "transform": [{"filter": "datum.k == 'unit'"}],
      "mark": {"type": "point", "shape": "M-2.35,-1H2.35V1H-2.35Z", "filled": true, "size": 225, "color": "#1f222b", "opacity": 1},
      "encoding": {
        "x": {"field": "d", "type": "temporal", "axis": {"title": null, "format": "%Y", "tickCount": "year", "grid": false, "ticks": false, "labelColor": "#b2b5be", "labelFontSize": 9, "labelFont": "Liberation Sans", "labelFontWeight": "bold", "labelPadding": 4, "labelFlush": false, "labelOverlap": false, "domainColor": "#434651"}},
        "y": {"field": "p", "type": "quantitative", "axis": {"orient": "right", "title": null, "format": ",.0f", "grid": false, "ticks": false, "values": [0, 10000, 20000, 30000, 40000, 50000, 60000, 70000, 80000, 90000, 100000, 110000, 120000, 130000], "labelColor": "#b2b5be", "labelFontSize": 9, "labelFont": "Liberation Sans", "labelPadding": 6, "domainColor": "#434651"}}
      }
    },
    {
      "data": {"name": "tags"},
      "mark": {"type": "text", "fontSize": 9, "font": "Liberation Sans", "color": "#ffffff", "align": "center", "baseline": "middle"},
      "encoding": {
        "x": {"field": "d", "type": "temporal", "axis": {"title": null, "format": "%Y", "tickCount": "year", "grid": false, "ticks": false, "labelColor": "#b2b5be", "labelFontSize": 9, "labelFont": "Liberation Sans", "labelFontWeight": "bold", "labelPadding": 4, "labelFlush": false, "labelOverlap": false, "domainColor": "#434651"}},
        "y": {"field": "p", "type": "quantitative", "axis": {"orient": "right", "title": null, "format": ",.0f", "grid": false, "ticks": false, "values": [0, 10000, 20000, 30000, 40000, 50000, 60000, 70000, 80000, 90000, 100000, 110000, 120000, 130000], "labelColor": "#b2b5be", "labelFontSize": 9, "labelFont": "Liberation Sans", "labelPadding": 6, "domainColor": "#434651"}},
        "text": {"field": "t"}
      }
    },
    {
      "data": {"name": "marks"},
      "transform": [{"filter": "datum.k == 'logo'"}],
      "mark": {"type": "text", "fontSize": 34, "font": "DejaVu Sans", "color": "#ffffff", "opacity": 0.9, "align": "center", "baseline": "middle"},
      "encoding": {
        "x": {"field": "d", "type": "temporal", "axis": {"title": null, "format": "%Y", "tickCount": "year", "grid": false, "ticks": false, "labelColor": "#b2b5be", "labelFontSize": 9, "labelFont": "Liberation Sans", "labelFontWeight": "bold", "labelPadding": 4, "labelFlush": false, "labelOverlap": false, "domainColor": "#434651"}},
        "y": {"field": "p", "type": "quantitative", "axis": {"orient": "right", "title": null, "format": ",.0f", "grid": false, "ticks": false, "values": [0, 10000, 20000, 30000, 40000, 50000, 60000, 70000, 80000, 90000, 100000, 110000, 120000, 130000], "labelColor": "#b2b5be", "labelFontSize": 9, "labelFont": "Liberation Sans", "labelPadding": 6, "domainColor": "#434651"}},
        "text": {"field": "t"}
      }
    },
    {
      "data": {"name": "marks"},
      "transform": [{"filter": "datum.k == 'name'"}],
      "mark": {"type": "text", "fontSize": 24, "font": "Liberation Sans", "color": "#e6e6e6", "opacity": 0.85, "align": "left", "baseline": "alphabetic"},
      "encoding": {
        "x": {"field": "d", "type": "temporal", "axis": {"title": null, "format": "%Y", "tickCount": "year", "grid": false, "ticks": false, "labelColor": "#b2b5be", "labelFontSize": 9, "labelFont": "Liberation Sans", "labelFontWeight": "bold", "labelPadding": 4, "labelFlush": false, "labelOverlap": false, "domainColor": "#434651"}},
        "y": {"field": "p", "type": "quantitative", "axis": {"orient": "right", "title": null, "format": ",.0f", "grid": false, "ticks": false, "values": [0, 10000, 20000, 30000, 40000, 50000, 60000, 70000, 80000, 90000, 100000, 110000, 120000, 130000], "labelColor": "#b2b5be", "labelFontSize": 9, "labelFont": "Liberation Sans", "labelPadding": 6, "domainColor": "#434651"}},
        "text": {"field": "t"}
      }
    }
  ],
  "config": {
    "view": {"stroke": null}
  }
}
